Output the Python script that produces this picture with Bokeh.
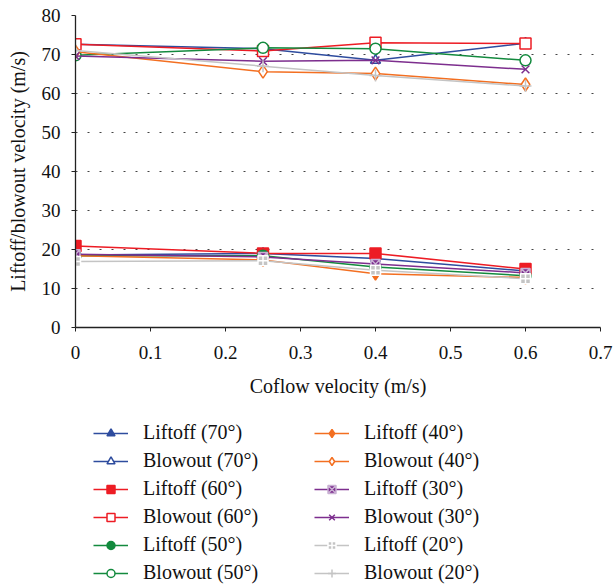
from bokeh.plotting import figure
from bokeh.models import Legend, LegendItem, Range1d, FixedTicker
from bokeh.layouts import column
from bokeh.embed import file_html
from bokeh.resources import INLINE

coflow = [0, 0.25, 0.4, 0.6]

liftoff_70 = [18.6, 19.0, 17.7, 14.5]
blowout_70 = [72.6, 71.5, 68.5, 72.9]
liftoff_60 = [20.9, 19.0, 19.0, 15.0]
blowout_60 = [72.6, 70.9, 73.0, 72.8]
liftoff_50 = [18.4, 18.4, 15.5, 13.3]
blowout_50 = [69.8, 71.7, 71.5, 68.5]
liftoff_40 = [18.4, 17.3, 13.8, 12.8]
blowout_40 = [70.7, 65.6, 65.1, 62.3]
liftoff_30 = [18.8, 18.1, 16.3, 14.0]
blowout_30 = [69.6, 68.3, 68.5, 66.2]
liftoff_20 = [16.9, 17.1, 14.7, 12.5]
blowout_20 = [71.0, 67.0, 64.6, 61.9]

x_ticks = [0, 0.1, 0.2, 0.3, 0.4, 0.5, 0.6, 0.7]
x_tick_labels = ["0", "0.1", "0.2", "0.3", "0.4", "0.5", "0.6", "0.7"]
y_ticks = [0, 10, 20, 30, 40, 50, 60, 70, 80]

FONT = "Liberation Serif"
BLUE = "#2E4C9E"
RED = "#ED1C24"
GREEN = "#138A3E"
ORANGE = "#F36F21"
PURPLE = "#7D2E8E"
GRAY = "#C4C4C4"

series = [
    ("Liftoff (70°)", liftoff_70, BLUE, "triangle", BLUE, BLUE, 10),
    ("Blowout (70°)", blowout_70, BLUE, "triangle", "white", BLUE, 10),
    ("Liftoff (60°)", liftoff_60, RED, "square", RED, RED, 11),
    ("Blowout (60°)", blowout_60, RED, "square", "white", RED, 11),
    ("Liftoff (50°)", liftoff_50, GREEN, "circle", GREEN, GREEN, 11),
    ("Blowout (50°)", blowout_50, GREEN, "circle", "white", GREEN, 11),
    ("Liftoff (40°)", liftoff_40, ORANGE, "diamond", ORANGE, ORANGE, 13),
    ("Blowout (40°)", blowout_40, ORANGE, "diamond", "white", ORANGE, 13),
    ("Liftoff (30°)", liftoff_30, PURPLE, "square_x", PURPLE, "#C9B0D3", 9),
    ("Blowout (30°)", blowout_30, PURPLE, "x", PURPLE, PURPLE, 11),
    ("Liftoff (20°)", liftoff_20, GRAY, "square_cross", GRAY, "white", 10),
    ("Blowout (20°)", blowout_20, GRAY, "cross", GRAY, GRAY, 12),
]

H_MAIN = 405
p = figure(width=616, height=H_MAIN, output_backend="svg", toolbar_location=None,
           x_range=Range1d(0, 0.7), y_range=Range1d(0, 80),
           min_border_left=75, min_border_right=16, min_border_top=15,
           min_border_bottom=H_MAIN - 327)
p.outline_line_color = None

p.xgrid.grid_line_color = None
p.ygrid.grid_line_color = "#444444"
p.ygrid.grid_line_dash = "2 10"
p.ygrid.grid_line_width = 1.2

p.xaxis.ticker = FixedTicker(ticks=x_ticks)
p.xaxis.major_label_overrides = {t: l for t, l in zip(x_ticks, x_tick_labels)}
p.yaxis.ticker = FixedTicker(ticks=y_ticks)
for ax in (p.xaxis, p.yaxis):
    ax.axis_line_color = "#222222"
    ax.axis_line_width = 1.3
    ax.major_tick_line_color = "#222222"
    ax.major_tick_out = 4
    ax.major_tick_in = 0
    ax.minor_tick_line_color = None
    ax.major_label_text_font = FONT
    ax.major_label_text_font_size = "19px"
    ax.major_label_text_color = "#111111"
    ax.axis_label_text_font = FONT
    ax.axis_label_text_font_size = "20px"
    ax.axis_label_text_font_style = "normal"
    ax.axis_label_text_color = "#111111"
p.xaxis.axis_label = "Coflow velocity (m/s)"
p.yaxis.axis_label = "Liftoff/blowout velocity (m/s)"
p.xaxis.major_label_standoff = 14
p.xaxis.axis_label_standoff = 13
p.yaxis.major_label_standoff = 11
p.yaxis.axis_label_standoff = 10

# Legend panel: same series drawn again but kept outside its (empty) view
H_LEG = 586 - H_MAIN
leg = figure(width=616, height=H_LEG, output_backend="svg", toolbar_location=None,
             x_range=Range1d(5, 6), y_range=Range1d(500, 501),
             x_axis_type=None, y_axis_type=None,
             min_border=0)
leg.outline_line_color = None
leg.xgrid.visible = False
leg.ygrid.visible = False

items = []
for label, ys, color, marker, fill, mline, size in series:
    p.line(coflow, ys, line_color=color, line_width=1.5)
    p.scatter(coflow, ys, marker=marker, size=size, fill_color=fill,
              line_color=mline, line_width=1.5)
    lr = leg.line(coflow, ys, line_color=color, line_width=1.5)
    sr = leg.scatter(coflow, ys, marker=marker, size=size, fill_color=fill,
                     line_color=mline, line_width=1.5)
    items.append(LegendItem(label=label, renderers=[lr, sr]))

def make_legend(its, loc):
    return Legend(items=its, location=loc, orientation="vertical",
                  border_line_color=None, background_fill_alpha=0,
                  padding=0, margin=0, spacing=5, glyph_width=35,
                  glyph_height=20, label_height=20, label_standoff=15,
                  label_text_font=FONT, label_text_font_size="20px",
                  label_text_color="#111111")

leg.add_layout(make_legend(items[:6], (18, 2)))
leg.add_layout(make_legend(items[6:], (239, 2)))

layout = column(p, leg, spacing=0)
open("out.html", "w").write(file_html(layout, INLINE))
